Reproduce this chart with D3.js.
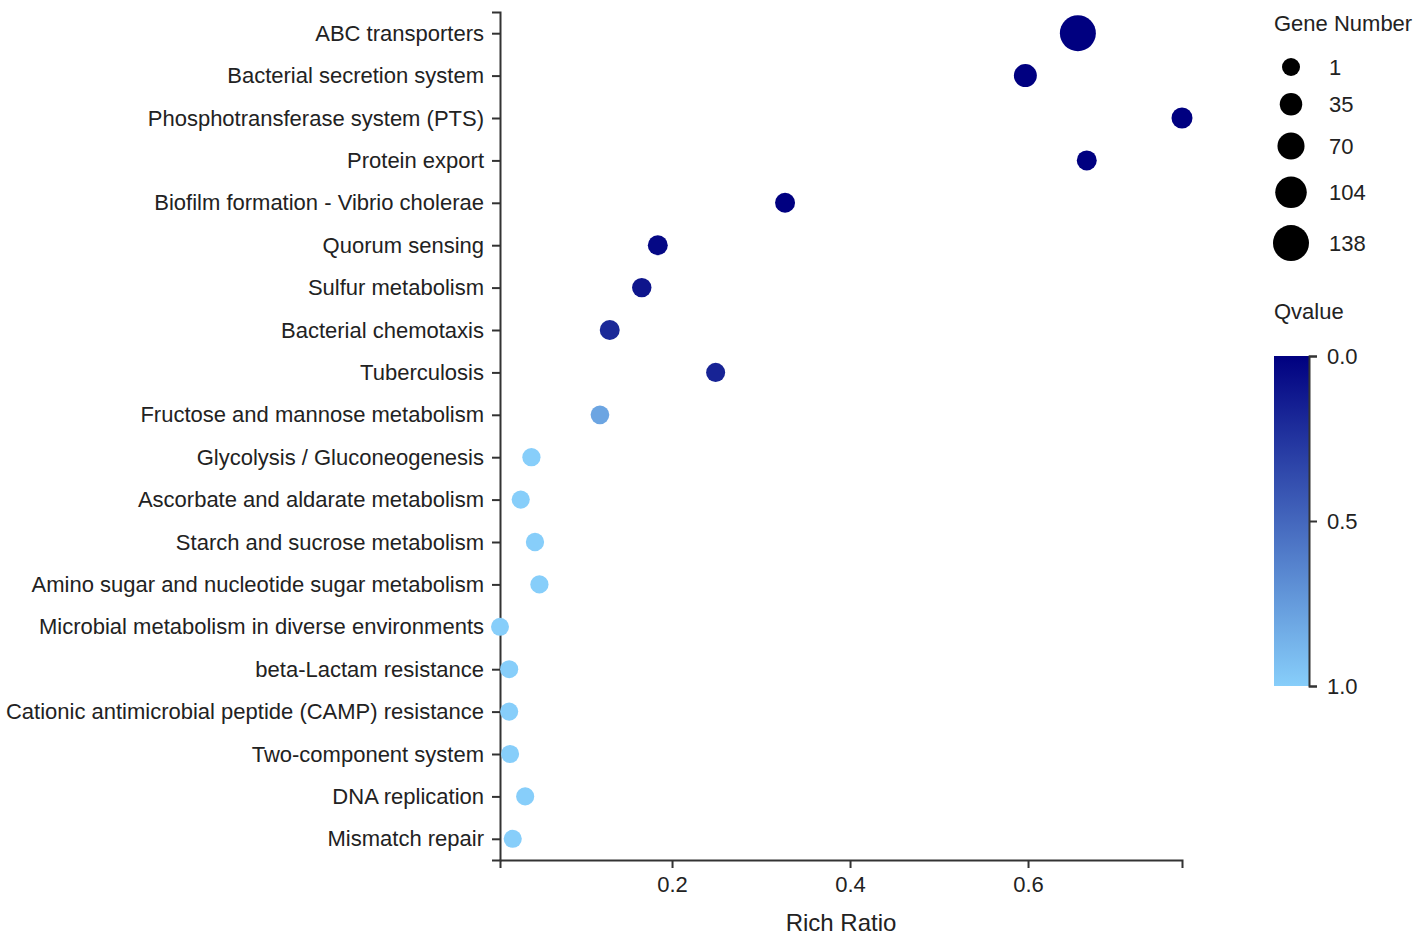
<!DOCTYPE html>
<html>
<head>
<meta charset="utf-8">
<script src="https://cdn.jsdelivr.net/npm/d3@7"></script>
<style>
  body { margin: 0; background: #fff; }
  text { font-family: "Liberation Sans", Arial, sans-serif; }
</style>
</head>
<body>
<svg id="bubble"></svg>
<script>
// pathways, top to bottom
const pathways = [
  "ABC transporters", "Bacterial secretion system", "Phosphotransferase system (PTS)",
  "Protein export", "Biofilm formation - Vibrio cholerae", "Quorum sensing",
  "Sulfur metabolism", "Bacterial chemotaxis", "Tuberculosis",
  "Fructose and mannose metabolism", "Glycolysis / Gluconeogenesis",
  "Ascorbate and aldarate metabolism", "Starch and sucrose metabolism",
  "Amino sugar and nucleotide sugar metabolism", "Microbial metabolism in diverse environments",
  "beta-Lactam resistance", "Cationic antimicrobial peptide (CAMP) resistance",
  "Two-component system", "DNA replication", "Mismatch repair"
];
const richRatio = [0.656, 0.597, 0.773, 0.666, 0.327, 0.184, 0.166, 0.130, 0.249, 0.119,
                   0.042, 0.030, 0.046, 0.051, 0.0067, 0.017, 0.017, 0.018, 0.035, 0.021];
const geneNumber = [138, 39, 24, 16, 16, 16, 12, 16, 9, 6,
                    3, 2, 3, 3, 1, 2, 2, 2, 2, 2];
const qvalue = [0, 0, 0, 0, 0, 0.04, 0.1, 0.2, 0.17, 0.8,
                1, 1, 1, 1, 1, 1, 1, 1, 1, 1];
const sizeLegend = [1, 35, 70, 104, 138];
const qTicks = [0, 0.5, 1];

const data = pathways.map((p, i) => ({
  name: p, ratio: richRatio[i], genes: geneNumber[i], q: qvalue[i]
}));

const width = 1419, height = 938;
const margin = {top: 12, right: 237, bottom: 78, left: 500};
const font = "'Liberation Sans', Arial, sans-serif";

const svg = d3.select("#bubble")
  .attr("width", width)
  .attr("height", height);

const xScale = d3.scaleLinear()
  .domain(d3.extent(data, d => d.ratio))
  .range([margin.left, width - margin.right]);

const yScale = d3.scalePoint()
  .domain(pathways)
  .range([margin.top, height - margin.bottom])
  .padding(0.5);

const rScale = d3.scaleLinear()
  .domain([1, 138])
  .range([9, 18]);

const color = d3.scaleLinear()
  .domain([0, 1])
  .range(["#000080", "#87CEFA"]);

// axes
const xAxis = svg.append("g")
  .attr("transform", `translate(0,${height - margin.bottom})`)
  .call(d3.axisBottom(xScale).tickValues([0.2, 0.4, 0.6]).tickSize(8).tickFormat(d3.format(".1f")));

const yAxis = svg.append("g")
  .attr("transform", `translate(${margin.left},0)`)
  .call(d3.axisLeft(yScale).tickSize(8));

[xAxis, yAxis].forEach(g => {
  g.selectAll("path, line").attr("stroke", "#333").attr("stroke-width", 2);
  g.selectAll("text").attr("font-size", 22).attr("fill", "#222").attr("font-family", font);
});
xAxis.selectAll("text").attr("dy", "0.95em");
yAxis.selectAll("text").attr("x", -16);

svg.append("text")
  .attr("x", (margin.left + width - margin.right) / 2)
  .attr("y", 931)
  .attr("text-anchor", "middle")
  .attr("font-size", 24)
  .attr("fill", "#222")
  .text("Rich Ratio");

// bubbles
svg.append("g")
  .selectAll("circle")
  .data(data)
  .join("circle")
  .attr("cx", d => xScale(d.ratio))
  .attr("cy", d => yScale(d.name))
  .attr("r", d => rScale(d.genes))
  .attr("fill", d => color(d.q));

// size legend
const legX = 1274;
svg.append("text")
  .attr("x", legX).attr("y", 31)
  .attr("font-size", 22).attr("fill", "#222")
  .text("Gene Number");

let cy = 67;
const legendY = sizeLegend.map((v, i) => {
  if (i > 0) cy += rScale(sizeLegend[i - 1]) + rScale(v) + 17;
  return cy;
});

const sizeG = svg.append("g");
sizeG.selectAll("circle")
  .data(sizeLegend)
  .join("circle")
  .attr("cx", 1291)
  .attr("cy", (d, i) => legendY[i])
  .attr("r", d => rScale(d))
  .attr("fill", "#000");
sizeG.selectAll("text")
  .data(sizeLegend)
  .join("text")
  .attr("x", 1329)
  .attr("y", (d, i) => legendY[i])
  .attr("dy", "0.35em")
  .attr("font-size", 22)
  .attr("fill", "#222")
  .text(d => d);

// colour legend
svg.append("text")
  .attr("x", legX).attr("y", 319)
  .attr("font-size", 22).attr("fill", "#222")
  .text("Qvalue");

const barTop = 356, barBottom = 686, barW = 35;
const grad = svg.append("defs").append("linearGradient")
  .attr("id", "qgrad")
  .attr("x1", "0%").attr("y1", "0%").attr("x2", "0%").attr("y2", "100%");
grad.selectAll("stop")
  .data([0, 0.25, 0.5, 0.75, 1])
  .join("stop")
  .attr("offset", d => d * 100 + "%")
  .attr("stop-color", d => color(d));

svg.append("rect")
  .attr("x", legX).attr("y", barTop)
  .attr("width", barW).attr("height", barBottom - barTop)
  .attr("fill", "url(#qgrad)");

const qScale = d3.scaleLinear().domain([0, 1]).range([barTop, barBottom]);
const qAxis = svg.append("g")
  .attr("transform", `translate(${legX + barW},0)`)
  .call(d3.axisRight(qScale).tickValues(qTicks).tickFormat(d3.format(".1f"))
    .tickSize(8).tickPadding(10));
qAxis.selectAll("path, line").attr("stroke", "#333").attr("stroke-width", 2);
qAxis.selectAll("text").attr("font-size", 22).attr("fill", "#222").attr("font-family", font);
</script>
</body>
</html>
